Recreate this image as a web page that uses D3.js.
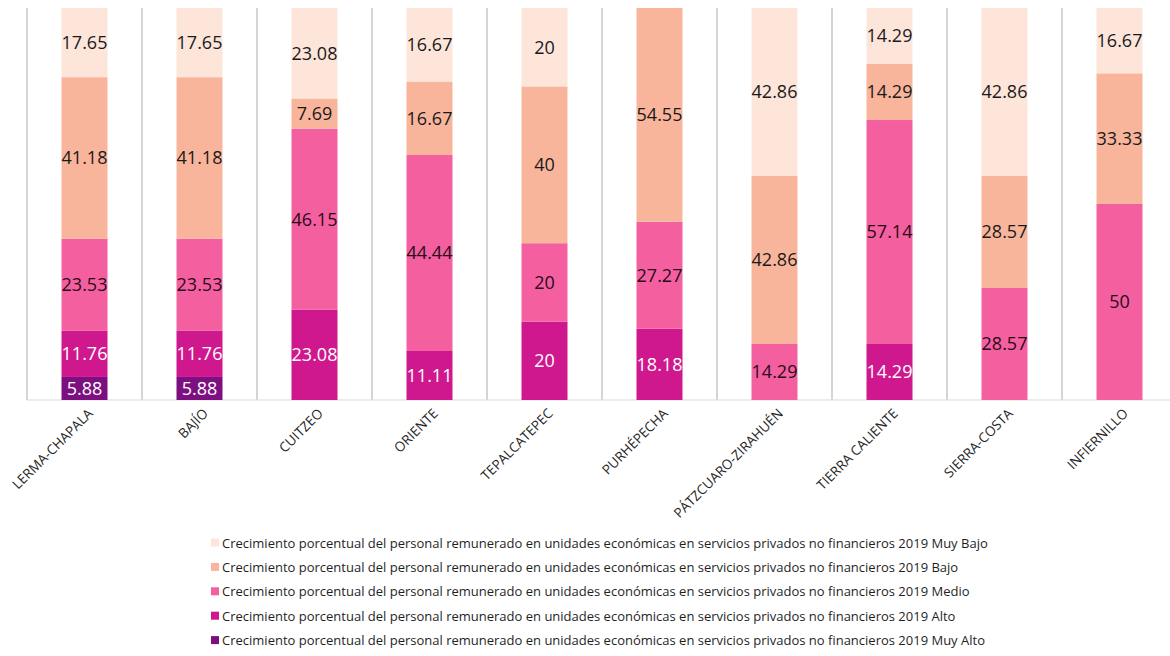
<!DOCTYPE html>
<html>
<head>
<meta charset="utf-8">
<script src="https://cdn.jsdelivr.net/npm/d3@7"></script>
<style>
  html, body { margin: 0; padding: 0; background: #fff; }
  svg { display: block; }
</style>
</head>
<body>
<svg id="chart" width="1170" height="656"></svg>
<script>
const categories = ["LERMA-CHAPALA","BAJÍO","CUITZEO","ORIENTE","TEPALCATEPEC","PURHÉPECHA","PÁTZCUARO-ZIRAHUÉN","TIERRA CALIENTE","SIERRA-COSTA","INFIERNILLO"];
const muyBajo = [17.65,17.65,23.08,16.67,20,0,42.86,14.29,42.86,16.67];
const bajo    = [41.18,41.18,7.69,16.67,40,54.55,42.86,14.29,28.57,33.33];
const medio   = [23.53,23.53,46.15,44.44,20,27.27,14.29,57.14,28.57,50];
const alto    = [11.76,11.76,23.08,11.11,20,18.18,0,14.29,0,0];
const muyAlto = [5.88,5.88,0,0,0,0,0,0,0,0];
const seriesNames = [
  "Crecimiento porcentual del personal remunerado en unidades económicas en servicios privados no financieros 2019 Muy Bajo",
  "Crecimiento porcentual del personal remunerado en unidades económicas en servicios privados no financieros 2019 Bajo",
  "Crecimiento porcentual del personal remunerado en unidades económicas en servicios privados no financieros 2019 Medio",
  "Crecimiento porcentual del personal remunerado en unidades económicas en servicios privados no financieros 2019 Alto",
  "Crecimiento porcentual del personal remunerado en unidades económicas en servicios privados no financieros 2019 Muy Alto"
];
const seriesKeys = ["muyAlto","alto","medio","bajo","muyBajo"]; // bottom to top
const colors = {muyBajo:"#fde5da", bajo:"#f9b59b", medio:"#f4609f", alto:"#cf178e", muyAlto:"#7d1080"};
const labelColors = {muyBajo:"#1a1a1a", bajo:"#1a1a1a", medio:"#2a0a1a", alto:"#ffffff", muyAlto:"#ffffff"};

const values = {muyBajo, bajo, medio, alto, muyAlto};
const rows = categories.map((c,i) => {
  const r = {cat: c};
  seriesKeys.forEach(k => r[k] = values[k][i]);
  return r;
});

const svg = d3.select("#chart");
const font = "'Open Sans', 'DejaVu Sans', sans-serif";

const x = d3.scaleBand().domain(categories).range([27, 1177]).padding(0);
const y = d3.scaleLinear().domain([0, 1]).range([400, 8]);

const stack = d3.stack().keys(seriesKeys).offset(d3.stackOffsetExpand);
const stacked = stack(rows);

// separators
svg.append("g").selectAll("line")
  .data(categories)
  .join("line")
  .attr("x1", d => x(d)).attr("x2", d => x(d))
  .attr("y1", 8).attr("y2", 400)
  .attr("stroke", "#bfbfbf").attr("stroke-width", 1.3);

// baseline
svg.append("line").attr("x1", 27).attr("x2", 1170).attr("y1", 400).attr("y2", 400)
  .attr("stroke", "#d9d9d9").attr("stroke-width", 1);

const barW = x.bandwidth() * 0.4;

const layers = svg.append("g").selectAll("g")
  .data(stacked)
  .join("g")
  .attr("fill", d => colors[d.key]);

layers.selectAll("rect")
  .data(d => d.map(p => ({p, key: d.key})))
  .join("rect")
  .attr("x", d => x(d.p.data.cat) + (x.bandwidth() - barW) / 2)
  .attr("width", barW)
  .attr("y", d => y(d.p[1]))
  .attr("height", d => y(d.p[0]) - y(d.p[1]));

// labels
const labelG = svg.append("g");
stacked.forEach(layer => {
  layer.forEach(p => {
    const v = p.data[layer.key];
    if (!v) return;
    labelG.append("text")
      .attr("x", x(p.data.cat) + x.bandwidth() / 2)
      .attr("y", (y(p[0]) + y(p[1])) / 2)
      .attr("dy", "0.36em")
      .attr("text-anchor", "middle")
      .attr("font-family", font)
      .attr("font-size", 18)
      .attr("fill", labelColors[layer.key])
      .text(v);
  });
});

// x axis labels
svg.append("g").selectAll("text")
  .data(categories)
  .join("text")
  .attr("transform", d => `translate(${x(d) + x.bandwidth()/2 + 6},${411}) rotate(-45)`)
  .attr("text-anchor", "end")
  .attr("dy", "0.35em")
  .attr("font-family", font)
  .attr("font-size", 13.5)
  .attr("fill", "#262626")
  .text(d => d);

// legend
const legendOrder = ["muyBajo","bajo","medio","alto","muyAlto"];
const lg = svg.append("g");
legendOrder.forEach((k, i) => {
  const yy = 543 + i * 24.4;
  lg.append("rect").attr("x", 211).attr("y", yy - 4.5).attr("width", 8).attr("height", 8).attr("fill", colors[k]);
  lg.append("text").attr("x", 222).attr("y", yy).attr("dy", "0.35em")
    .attr("font-family", font).attr("font-size", 13).attr("fill", "#1f1f1f")
    .text(seriesNames[i]);
});
</script>
</body>
</html>
